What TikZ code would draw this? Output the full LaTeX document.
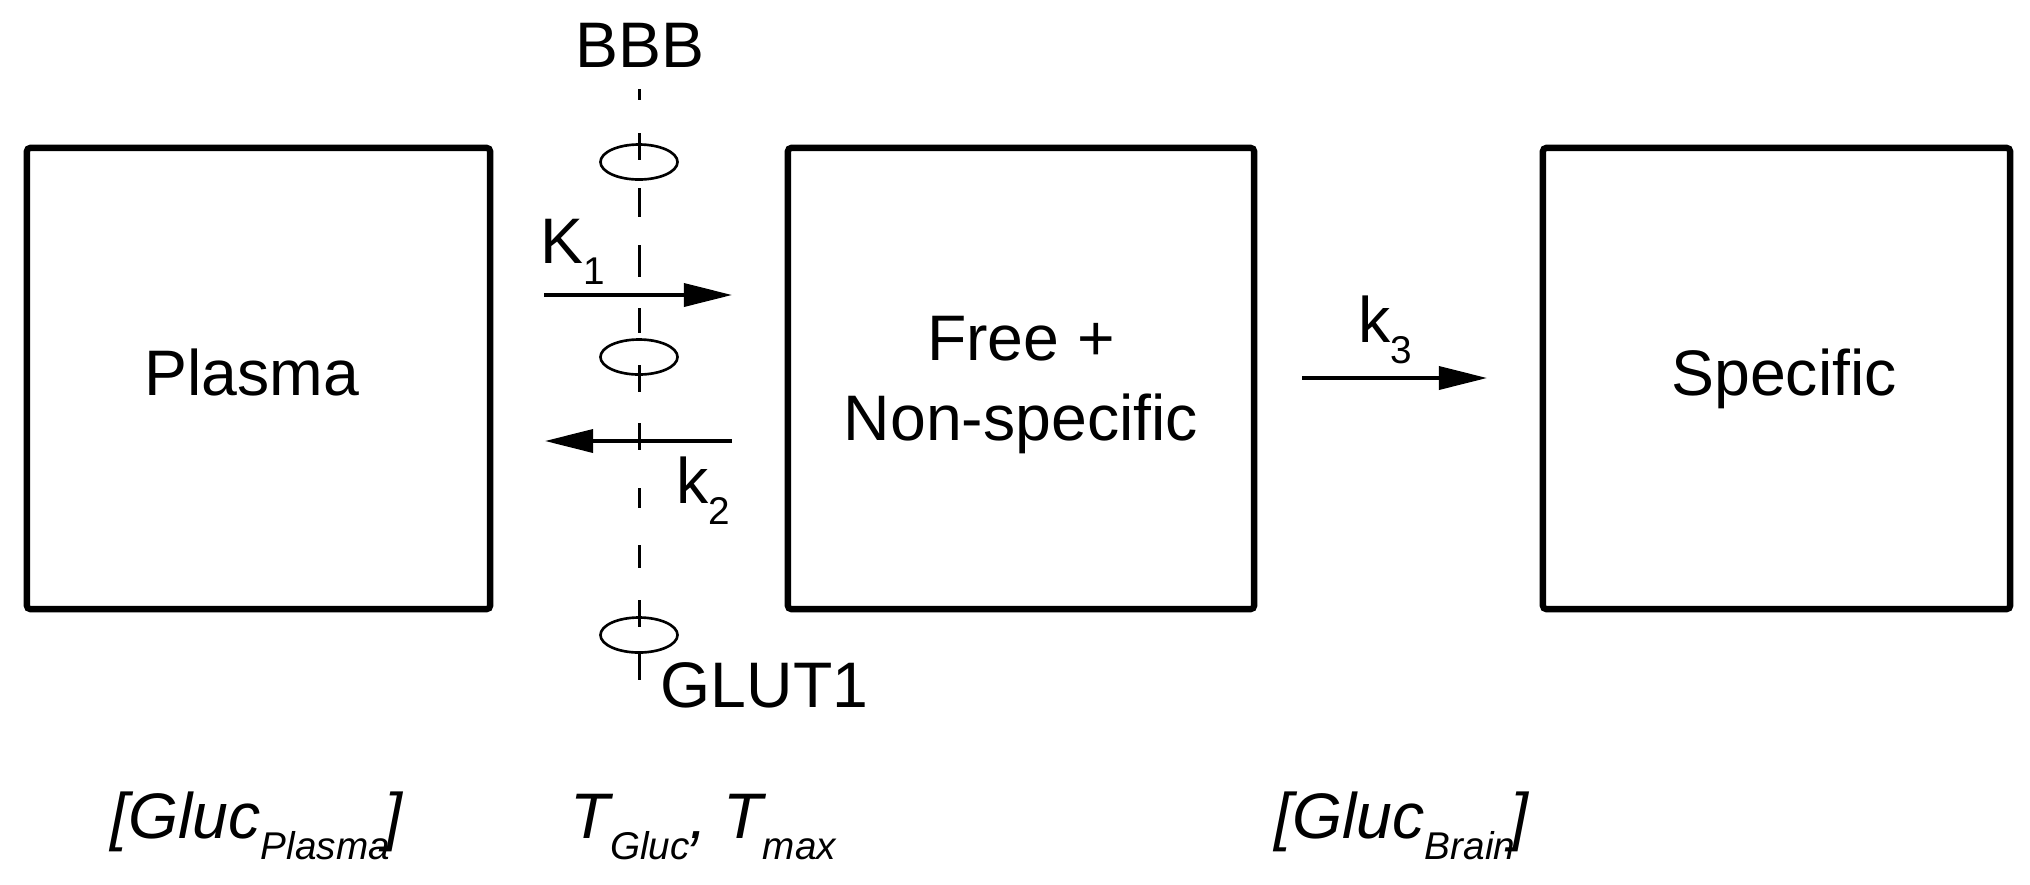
\documentclass[tikz,border=0pt]{standalone}
\usepackage{fontspec}
\setmainfont{Liberation Sans}
\usetikzlibrary{arrows.meta,shapes.geometric}
\newcommand\sbs[1]{\raisebox{-0.34em}{\fontsize{11}{13}\selectfont #1}}
\begin{document}
\begin{tikzpicture}[x=0.01cm,y=-0.01cm,
  box/.style={draw, line width=1.8pt, rounded corners=1pt, minimum width=#1, minimum height=4.61cm, inner sep=0pt},
  lbl/.style={font=\fontsize{18.3}{22}\selectfont, inner sep=0pt},
  flow/.style={line width=1pt, -{Triangle[length=0.48cm,width=0.23cm]}},
  glut/.style={draw, ellipse, line width=0.75pt, minimum width=0.77cm, minimum height=0.35cm, inner sep=0pt},
  membrane/.style={line width=0.85pt}]
\useasboundingbox (0,0) rectangle (2030,884);

% compartments
\node[box=4.63cm] (plasma) at (258.5,378.5) {};
\node[box=4.66cm] (free) at (1021,378.5) {};
\node[box=4.67cm] (spec) at (1776.5,378.5) {};

\node[lbl, anchor=base] (tplasma) at (252,395) {Plasma};
\node[lbl, anchor=base] (tfree1) at (1021,360) {Free +};
\node[lbl, anchor=base] (tfree2) at (1021,440) {Non-specific};
\node[lbl, anchor=base] (tspec) at (1784,395) {Specific};

% blood-brain barrier
\foreach \a/\b in {89/100,133/160,188/217,245/277,308/333,365/392,423/450,488/508,545/568,600/627,653/680}
  \draw[membrane] (639,\a) -- (639,\b);
\node[glut] (g1) at (639,162) {};
\node[glut] (g2) at (639,357) {};
\node[glut] (g3) at (639,635) {};
\node[lbl, anchor=base] (bbb) at (640,67) {BBB};
\node[lbl, anchor=base west] (glutlbl) at (660,707) {GLUT1};

% rate constants
\coordinate (k1a) at (544,295); \coordinate (k1b) at (732,295);
\coordinate (k2a) at (732,441); \coordinate (k2b) at (545,441);
\coordinate (k3a) at (1302,378); \coordinate (k3b) at (1487,378);
\draw[flow] (k1a) -- (k1b);
\draw[flow] (k2a) -- (k2b);
\draw[flow] (k3a) -- (k3b);
\node[lbl, anchor=base west] (lk1) at (540,263) {K\sbs{1}};
\node[lbl, anchor=base west] (lk2) at (676,503) {k\sbs{2}};
\node[lbl, anchor=base west] (lk3) at (1358,342) {k\sbs{3}};

% bottom parameters
\node[lbl, anchor=base west] (cplasma) at (110,838) {\itshape [Gluc\sbs{Plasma}\kern-0.08em]};
\node[lbl, anchor=base west] (tg) at (570,838) {\itshape T\sbs{Gluc},\kern0.25em T\sbs{max}};
\node[lbl, anchor=base west] (cbrain) at (1274,838) {\itshape [Gluc\sbs{Brain}\kern-0.08em]};
\end{tikzpicture}
\end{document}
